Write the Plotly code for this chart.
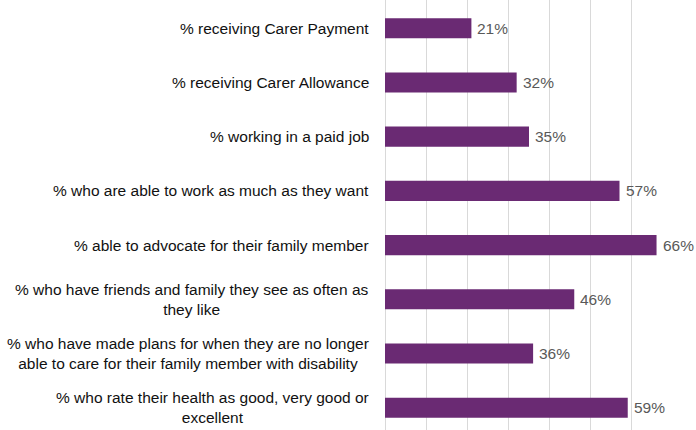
import plotly.graph_objects as go

categories = [
    "% receiving Carer Payment",
    "% receiving Carer Allowance",
    "% working in a paid job",
    "% who are able to work as much as they want",
    "% able to advocate for their family member",
    "% who have friends and family they see as often as<br>they like",
    "% who have made plans for when they are no longer<br>able to care for their family member with disability",
    "% who rate their health as good, very good or<br>excellent",
]
values = [0.21, 0.32, 0.35, 0.57, 0.66, 0.46, 0.36, 0.59]
value_labels = ["21%", "32%", "35%", "57%", "66%", "46%", "36%", "59%"]
x_ticks = [0, 0.1, 0.2, 0.3, 0.4, 0.5, 0.6, 0.7]

FONT = "Liberation Sans, Arial, sans-serif"
BAR = "#6A2A73"

ypos = list(range(len(categories)))

fig = go.Figure()
fig.add_trace(go.Bar(
    x=values, y=ypos, orientation="h",
    marker=dict(color=BAR, line=dict(width=0)),
    width=0.37, hoverinfo="skip",
))

annotations = []
for i, (cat, v, lab) in enumerate(zip(categories, values, value_labels)):
    annotations.append(dict(
        x=0, y=i, xref="x", yref="y", text=cat, showarrow=False,
        xanchor="right", yanchor="middle", align="center", xshift=-14,
        font=dict(family=FONT, size=15.5, color="#111111"),
    ))
    annotations.append(dict(
        x=v, y=i, xref="x", yref="y", text=lab, showarrow=False,
        xanchor="left", yanchor="middle", xshift=4,
        font=dict(family=FONT, size=15.5, color="#595959"),
    ))

fig.update_layout(
    width=696, height=430,
    margin=dict(l=385, r=23, t=0, b=0),
    paper_bgcolor="white", plot_bgcolor="white",
    showlegend=False,
    annotations=annotations,
    xaxis=dict(range=[0, 0.7], tickvals=x_ticks, showticklabels=False,
               showgrid=True, gridcolor="#D9D9D9", gridwidth=1,
               zeroline=True, zerolinecolor="#D9D9D9", zerolinewidth=1,
               showline=False, fixedrange=True),
    yaxis=dict(range=[7.41, -0.52], showticklabels=False, showgrid=False,
               zeroline=False, showline=False, fixedrange=True),
)

fig.write_html("out.html", config={"displayModeBar": False},
               post_script="document.body.style.margin='0';document.body.style.overflow='hidden';")
